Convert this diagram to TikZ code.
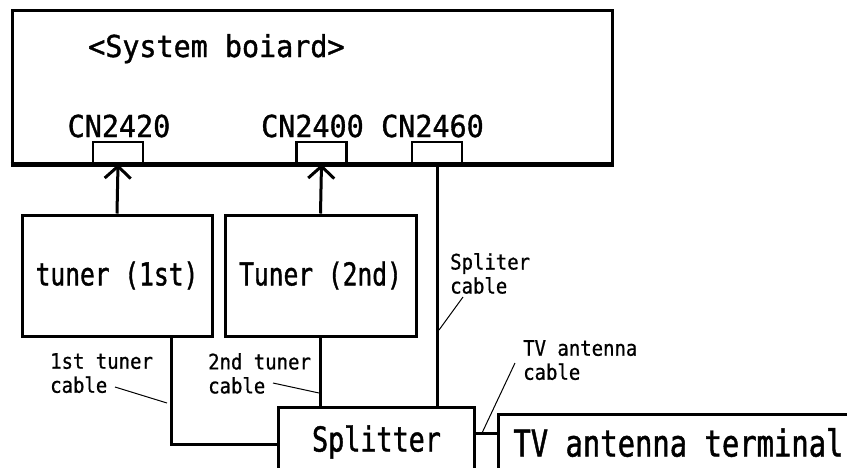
\documentclass[tikz,border=0pt]{standalone}
\usepackage{fontspec}
\usetikzlibrary{arrows.meta}
\newfontfamily\gothL[FakeStretch=0.78, FakeBold=1.2]{DejaVu Sans Mono}
\newfontfamily\gothM[FakeStretch=0.94, FakeBold=1.2]{DejaVu Sans Mono}
\newfontfamily\gothS[FakeStretch=0.89, FakeBold=0.8]{DejaVu Sans Mono}

\begin{document}
\begin{tikzpicture}[x=1pt, y=-1pt,
    box/.style={draw, line width=3pt, inner sep=0pt},
    conn/.style={draw, line width=2.5pt, minimum width=50pt, minimum height=21pt, inner sep=0pt},
    cable/.style={line width=3pt},
    lead/.style={line width=1pt},
    big/.style={font=\gothL\fontsize{31.5}{36}\selectfont},
    cnlabel/.style={anchor=base, inner sep=0pt, font=\gothM\fontsize{30.2}{34}\selectfont},
    note/.style={anchor=north west, inner sep=0pt, align=left, font=\gothS\fontsize{21.3}{24}\selectfont}]
    \useasboundingbox (0,0) rectangle (847,467);

    % system board
    \node[box, minimum width=600pt, minimum height=153pt] (board) at (312,86.5) {};
    \draw[line width=5pt] (board.south west) -- (board.south east);
    \node[anchor=base west, inner sep=0pt, font=\gothM\fontsize{30.2}{34}\selectfont] (boardtext) at (88,57) {<System boiard>};

    \node[conn] (cn2420) at (118,152.5) {};
    \node[conn] (cn2400) at (321.5,152.5) {};
    \node[conn] (cn2460) at (437,152.5) {};
    \node[cnlabel] (cn2420text) at (119,137) {CN2420};
    \node[cnlabel] (cn2400text) at (312.5,137) {CN2400};
    \node[cnlabel] (cn2460text) at (432.5,137) {CN2460};

    % tuners
    \node[box, big, minimum width=190pt, minimum height=121pt] (tuner1) at (117,275.5) {tuner (1st)};
    \node[box, big, minimum width=191pt, minimum height=121pt] (tuner2) at (320.5,275.5) {Tuner (2nd)};

    % splitter and terminal
    \node[box, font=\gothL\fontsize{34.3}{38}\selectfont, minimum width=196pt, text height=44pt, text depth=30pt, anchor=north west] (splitter) at (277,406) {Splitter};
    \node[box, font=\gothL\fontsize{37}{42}\selectfont, minimum width=360pt, text height=42pt, text depth=30pt, anchor=north west] (terminal) at (497,413) {TV antenna terminal};

    % cables
    \draw[cable, -{Straight Barb[length=12pt, width=26pt]}] (tuner1.north) -- (cn2420.south);
    \draw[cable, -{Straight Barb[length=12pt, width=26pt]}] (tuner2.north) -- (cn2400.south);
    \draw[cable] (cn2460.south) -- (cn2460.south |- splitter.north);
    \draw[cable] (tuner2.south) -- (tuner2.south |- splitter.north);
    \draw[cable] (tuner1.south east) ++(-42,0) |- (splitter.west);
    \coordinate (ant) at (0,433);
    \draw[cable] (splitter.east |- ant) -- (terminal.west |- ant);

    % cable notes
    \node[note] (note1) at (50,353) {1st tuner\\cable};
    \node[note] (note2) at (208,353) {2nd tuner\\cable};
    \node[note] (note3) at (450,253) {Spliter\\cable};
    \node[note] (note4) at (523,340) {TV antenna\\cable};
    \coordinate (n1a) at (115,387); \coordinate (n1b) at (167,403);
    \coordinate (n2a) at (273,383); \coordinate (n2b) at (319,393);
    \coordinate (n3a) at (463,297); \coordinate (n3b) at (439,330);
    \coordinate (n4a) at (515,363); \coordinate (n4b) at (482,433);
    \draw[lead] (n1a) -- (n1b);
    \draw[lead] (n2a) -- (n2b);
    \draw[lead] (n3a) -- (n3b);
    \draw[lead] (n4a) -- (n4b);
\end{tikzpicture}
\end{document}
